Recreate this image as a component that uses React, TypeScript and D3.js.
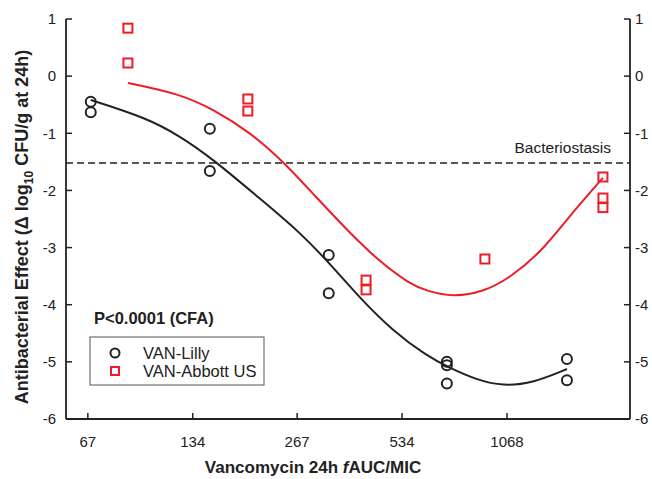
import React from "react";
import * as d3 from "d3";

const xTicks = [67, 134, 267, 534, 1068];
const yTicks = [1, 0, -1, -2, -3, -4, -5, -6];

const lillyX = [68.3, 68.3, 150, 150, 329, 329, 718, 718, 718, 1587, 1587];
const lillyY = [-0.45, -0.63, -0.92, -1.66, -3.13, -3.8, -5.0, -5.06, -5.38, -4.95, -5.32];

const abbottX = [87.3, 87.3, 192.8, 192.8, 421, 421, 923, 2013, 2013, 2013];
const abbottY = [0.84, 0.23, -0.4, -0.61, -3.57, -3.74, -3.2, -1.765, -2.133, -2.3];

const lillyFitX = [68.3, 98.9, 123, 153, 204.6, 271.9, 338.2, 404.2, 502.8, 629.4, 723, 875.7, 1040, 1268, 1587];
const lillyFitY = [-0.418, -0.733, -1.048, -1.451, -2.099, -2.728, -3.34, -3.883, -4.461, -4.898, -5.09, -5.318, -5.423, -5.37, -5.125];

const abbottFitX = [87.3, 123, 153, 195.4, 246.3, 304.2, 378.4, 461.4, 562.5, 629.4, 747.4, 911.2, 1089, 1355, 1587, 2013];
const abbottFitY = [-0.12, -0.312, -0.575, -0.978, -1.52, -2.133, -2.745, -3.253, -3.638, -3.76, -3.865, -3.778, -3.533, -3.043, -2.5, -1.78];

const stasis = -1.52;

const FONT = "'Liberation Sans', Arial, sans-serif";
const RED = "#ee1c24";
const INK = "#222";

export default function App() {
  const W = 652, H = 479;
  const x = d3.scaleLog().domain([58, 2407]).range([66, 630]);
  const y = d3.scaleLinear().domain([-6, 1]).range([419, 19]);
  const line = d3
    .line<[number, number]>()
    .x((d) => x(d[0]))
    .y((d) => y(d[1]))
    .curve(d3.curveBasis);
  const lillyFit = lillyFitX.map((v, i) => [v, lillyFitY[i]] as [number, number]);
  const abbottFit = abbottFitX.map((v, i) => [v, abbottFitY[i]] as [number, number]);
  const [x0, x1] = x.range();
  const [yb, yt] = y.range();

  return (
    <svg width={W} height={H} style={{ position: "absolute", left: 0, top: 0, background: "#fff" }} fontFamily={FONT}>
      {/* axes */}
      <line x1={x0} x2={x0} y1={yt} y2={yb} stroke={INK} strokeWidth={1.8} />
      <line x1={x1} x2={x1} y1={yt} y2={yb} stroke={INK} strokeWidth={1.8} />
      <line x1={x0} x2={x1} y1={yb} y2={yb} stroke={INK} strokeWidth={1.8} />
      {yTicks.map((t) => (
        <g key={"y" + t}>
          <line x1={x0} x2={x0 + 6} y1={y(t)} y2={y(t)} stroke={INK} strokeWidth={1.5} />
          <line x1={x1} x2={x1 - 6} y1={y(t)} y2={y(t)} stroke={INK} strokeWidth={1.5} />
          <text x={x0 - 10} y={y(t)} dy="0.35em" textAnchor="end" fontSize={15} fill={INK}>{t}</text>
          <text x={x1 + 5} y={y(t)} dy="0.35em" textAnchor="start" fontSize={15} fill={INK}>{t}</text>
        </g>
      ))}
      {xTicks.map((t) => (
        <g key={"x" + t}>
          <line x1={x(t)} x2={x(t)} y1={yb} y2={yb - 6} stroke={INK} strokeWidth={1.5} />
          <text x={x(t)} y={447} textAnchor="middle" fontSize={15} fill={INK}>{t}</text>
        </g>
      ))}
      <text x={313} y={473} textAnchor="middle" fontSize={17} fontWeight="bold" fill={INK}>
        Vancomycin 24h <tspan fontStyle="italic">f</tspan>AUC/MIC
      </text>
      <text transform="translate(28,227) rotate(-90)" textAnchor="middle" fontSize={18} fontWeight="bold" fill={INK}>
        Antibacterial Effect (Δ log<tspan fontSize={12} dy={5}>10</tspan><tspan dy={-5}> CFU/g at 24h)</tspan>
      </text>

      {/* stasis */}
      <line x1={x0} x2={x1} y1={y(stasis)} y2={y(stasis)} stroke={INK} strokeWidth={1.5} strokeDasharray="7,4" />
      <text x={611} y={153} textAnchor="end" fontSize={15.5} fill={INK}>Bacteriostasis</text>

      {/* fits */}
      <path d={line(abbottFit) || ""} fill="none" stroke={RED} strokeWidth={2} />
      <path d={line(lillyFit) || ""} fill="none" stroke={INK} strokeWidth={2} />

      {/* points */}
      {lillyX.map((v, i) => (
        <circle key={"c" + i} cx={x(v)} cy={y(lillyY[i])} r={5} fill="none" stroke={INK} strokeWidth={2} />
      ))}
      {abbottX.map((v, i) => (
        <rect key={"s" + i} x={x(v) - 4.5} y={y(abbottY[i]) - 4.5} width={9} height={9} fill="none" stroke={RED} strokeWidth={2} />
      ))}

      {/* annotation */}
      <text x={94} y={324} fontSize={16.5} fontWeight="bold" fill={INK}>P&lt;0.0001 (CFA)</text>

      {/* legend */}
      <rect x={90} y={337} width={174} height={48} fill="#fff" stroke="#555" strokeWidth={1} />
      <circle cx={115} cy={353} r={4.5} fill="none" stroke={INK} strokeWidth={2} />
      <rect x={111} y={367} width={8} height={8} fill="none" stroke={RED} strokeWidth={2} />
      <text x={143} y={353} dy="0.35em" fontSize={16.5} fill={INK}>VAN-Lilly</text>
      <text x={143} y={371} dy="0.35em" fontSize={16.5} fill={INK}>VAN-Abbott US</text>
    </svg>
  );
}
